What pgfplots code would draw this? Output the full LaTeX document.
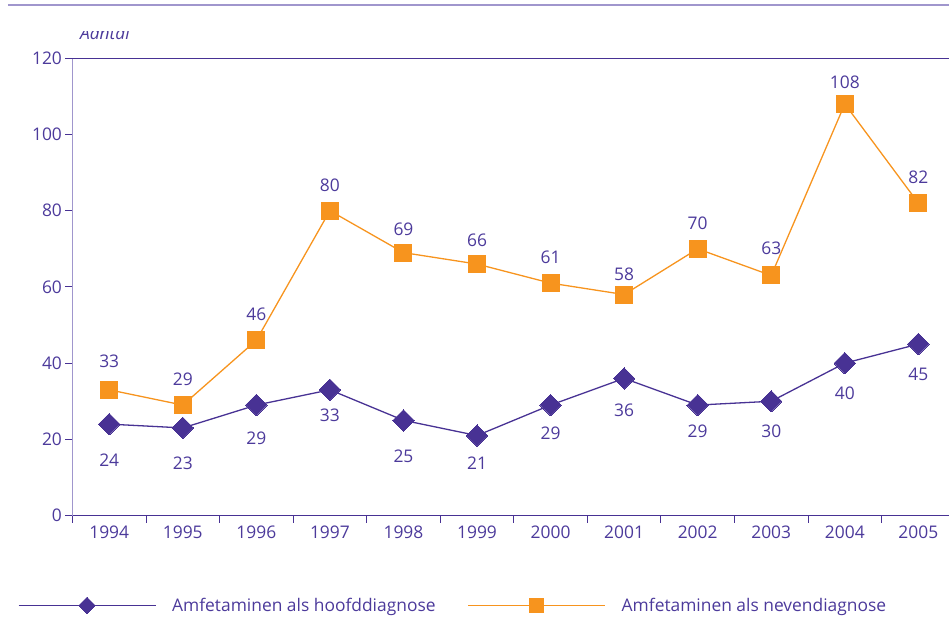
\documentclass[border=0pt]{standalone}
\usepackage{pgfplots}
\pgfplotsset{compat=1.18}
\usepackage{pgfplotstable}
\usepackage{fontspec}
\setmainfont{Open Sans}
\definecolor{pur}{RGB}{72,50,148}
\definecolor{txt}{RGB}{76,58,155}
\definecolor{lpur}{RGB}{160,150,205}
\definecolor{org}{RGB}{247,148,30}

\pgfplotstableread{
x y off
0 24 -36
1 23 -35
2 29 -33
3 33 -25
4 25 -36
5 21 -28
6 29 -28
7 36 -32
8 29 -26
9 30 -30
10 40 -30
11 45 -30
}\hoofd
\pgfplotstableread{
x y off
0 33 29
1 29 26
2 46 26
3 80 25
4 69 23
5 66 24
6 61 26
7 58 20
8 70 26
9 63 27
10 108 22
11 82 26
}\neven

\begin{document}
\begin{tikzpicture}[font=\fontsize{17.4}{20}\selectfont]
\begin{axis}[
  at={(0,0)}, anchor=south west,
  scale only axis, width=877.5pt, height=457.7pt,
  xmin=-0.5, xmax=11.42, ymin=0, ymax=120,
  axis x line*=bottom, axis y line*=left,
  axis line style={-},
  x axis line style={pur, line width=1.2pt},
  y axis line style={lpur, line width=1.5pt},
  xtick={-0.5,0.5,...,10.5},
  xticklabels={1994,1995,1996,1997,1998,1999,2000,2001,2002,2003,2004,2005},
  xticklabel style={xshift=36.8pt},
  ytick={0,20,...,120},
  tick align=outside, major tick length=7pt,
  tick style={pur, line width=1pt},
  tick label style={font=\fontsize{17.4}{20}\selectfont, text=txt},
  /pgf/number format/assume math mode=true,
  clip=false,
  nodes near coords,
  visualization depends on={\thisrow{off} \as \off},
  every node near coord/.append style={anchor=center, yshift=\off pt, font=\fontsize{17.4}{20}\selectfont, text=txt},
  legend columns=2,
  legend style={draw=none, fill=none, inner sep=0pt, outer sep=0pt,
    at={(-0.0621,-0.1966)}, anchor=west,
    /tikz/every odd column/.append style={column sep=14pt},
    /tikz/every even column/.append style={column sep=30pt},
    font=\fontsize{17.4}{20}\selectfont, text=txt},
  legend image code/.code={
    \draw[#1, mark=none] (0pt,0pt) -- (137pt,0pt);
    \draw[#1, only marks, every mark/.append style={scale=0.78}] plot coordinates {(68.5pt,0pt)};
  },
]
\addplot[pur, line width=1.3pt, mark=square*, mark size=7.6pt,
  mark options={rotate=45, fill=pur, draw=pur, line width=0pt}] table[x=x, y=y] {\hoofd};
\addlegendentry{Amfetaminen als hoofddiagnose}
\addplot[org, line width=1.3pt, mark=square*, mark size=8.5pt,
  mark options={fill=org, draw=org, line width=0pt}] table[x=x, y=y] {\neven};
\addlegendentry{Amfetaminen als nevendiagnose}
\draw[pur, line width=1.2pt] (axis cs:-0.5,120) -- (axis cs:11.42,120);
\end{axis}
\draw[lpur, line width=1.5pt] (-64.5pt,511pt) -- (877.5pt,511pt);
\begin{scope}
\clip (0pt,440pt) rectangle (200pt,484.5pt);
\node[anchor=base west, inner sep=0pt, text=txt, font=\fontsize{17.4}{20}\selectfont\itshape] at (7.5pt,476pt) {Aantal};
\end{scope}
\path[use as bounding box] (-72.5pt,-102pt) rectangle (877.5pt,516pt);
\end{tikzpicture}
\end{document}
